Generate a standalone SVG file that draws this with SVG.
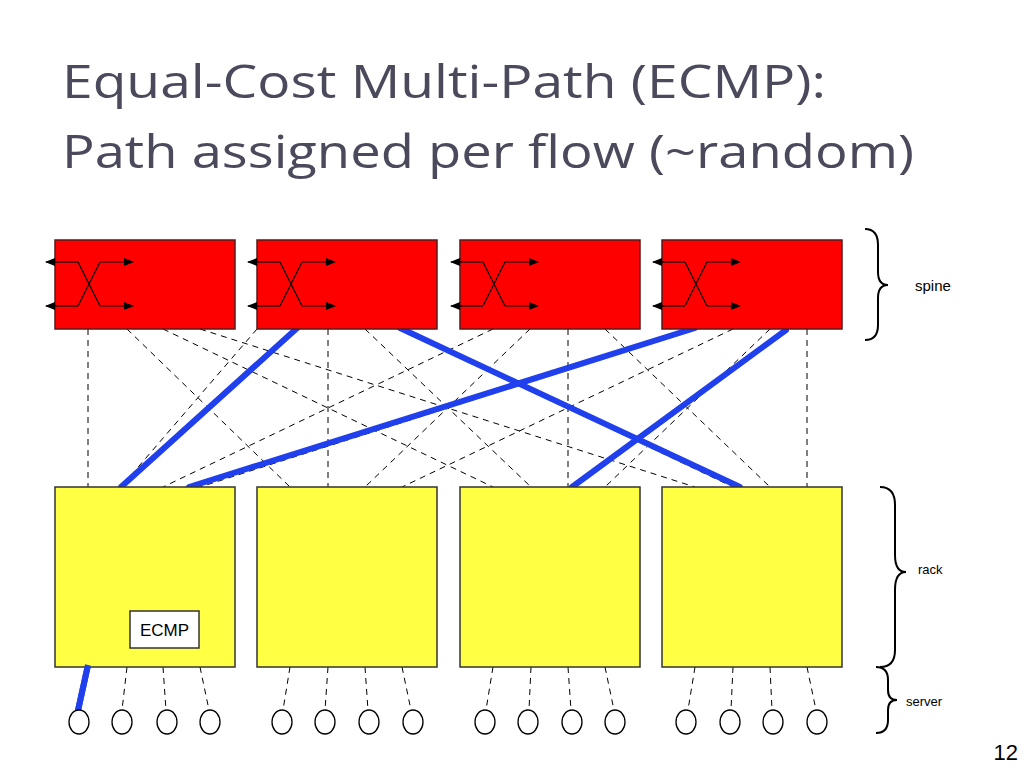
<svg xmlns="http://www.w3.org/2000/svg" width="1024" height="768" viewBox="0 0 1024 768">
<style>
.sp{fill:#ff0000;stroke:#5a1a1a;stroke-width:1.5}
.rk{fill:#ffff44;stroke:#333;stroke-width:1.5}
.ic{fill:none;stroke:#000;stroke-width:1.2}
.d{stroke:#000;stroke-width:1;stroke-dasharray:6,5;fill:none}
.sv{fill:#fff;stroke:#000;stroke-width:1.3}
.bl{fill:none;stroke:#2040ee;stroke-width:6;stroke-linejoin:round}
.br{fill:none;stroke:#000;stroke-width:2}
.t{font-family:'Liberation Sans',Arial,sans-serif;fill:#000}
</style>
<defs>
<marker id="ah" viewBox="0 0 10 10" refX="9" refY="5" markerWidth="10" markerHeight="10" markerUnits="userSpaceOnUse" orient="auto"><path d="M0,1 L10,5 L0,9 Z" fill="#000"/></marker>
<marker id="bh" viewBox="0 0 10 10" refX="8" refY="5" markerWidth="5" markerHeight="4" orient="auto"><path d="M0,0 L10,5 L0,10 Z" fill="#2040ee"/></marker>
<g id="sw">
<path class="ic" d="M78,262 H46" marker-end="url(#ah)"/>
<path class="ic" d="M100,262 H133" marker-end="url(#ah)"/>
<path class="ic" d="M78,306 H46" marker-end="url(#ah)"/>
<path class="ic" d="M100,306 H133" marker-end="url(#ah)"/>
<path class="ic" d="M78,262 L100,306 M100,262 L78,306"/>
</g>
</defs>
<rect width="1024" height="768" fill="#fff"/>
<text x="62" y="98" font-family="'Open Sans','DejaVu Sans',sans-serif" font-size="46" fill="#4a4a5c" textLength="764" lengthAdjust="spacingAndGlyphs">Equal-Cost Multi-Path (ECMP):</text>
<text x="62" y="168" font-family="'Open Sans','DejaVu Sans',sans-serif" font-size="46" fill="#4a4a5c" textLength="852" lengthAdjust="spacingAndGlyphs">Path assigned per flow (~random)</text>
<g id="connectors">
<path class="d" d="M88,329 V487 M127,329 L290,487 M163,329 L493,487 M200,329 L695,487
M257,329 L121,487 M328,329 V487 M365,329 L531,487 M402,329 L733,487
M493,329 L163,487 M530,329 L365,487 M568,329 V487 M605,329 L770,487
M695,329 L200,487 M733,329 L402,487 M770,329 L605,487 M807,329 V487"/>
<path class="d" d="M127,667 L122,710 M163,667 L166,710 M200,667 L209,710
M290,667 L283,710 M328,667 L325,710 M365,667 L368,710 M402,667 L411,710
M493,667 L486,710 M531,667 L529,710 M568,667 L571,710 M605,667 L614,710
M695,667 L688,710 M733,667 L731,710 M770,667 L772,710 M807,667 L816,710"/>
<path class="bl" d="M77,715 L88,665 L121,487 L347,283 L400,328 L740,487 L767,660" marker-end="url(#bh)"/>
<path class="bl" d="M88,665 L189,487 L695,328 L753,283 L786,330 L572,487 L501,655" marker-end="url(#bh)"/>
</g>
<g id="spine1"><rect class="sp" x="55" y="240" width="180" height="89"/><use href="#sw"/></g>
<g id="spine2"><rect class="sp" x="257" y="240" width="180" height="89"/><use href="#sw" x="202"/></g>
<g id="spine3"><rect class="sp" x="460" y="240" width="180" height="89"/><use href="#sw" x="405"/></g>
<g id="spine4"><rect class="sp" x="662" y="240" width="180" height="89"/><use href="#sw" x="607"/></g>
<g id="rack1"><rect class="rk" x="55" y="487" width="180" height="180"/></g>
<g id="rack2"><rect class="rk" x="257" y="487" width="180" height="180"/></g>
<g id="rack3"><rect class="rk" x="460" y="487" width="180" height="180"/></g>
<g id="rack4"><rect class="rk" x="662" y="487" width="180" height="180"/></g>
<g id="ecmp"><rect x="130" y="611" width="69" height="37" fill="#fff" stroke="#333" stroke-width="1.5"/><text class="t" x="164.5" y="636" font-size="17" text-anchor="middle">ECMP</text></g>
<path class="bl" d="M88,665 L77,715" />
<g id="servers">
<ellipse class="sv" cx="79" cy="722" rx="10" ry="12"/><ellipse class="sv" cx="122" cy="722" rx="10" ry="12"/><ellipse class="sv" cx="167" cy="722" rx="10" ry="12"/><ellipse class="sv" cx="210" cy="722" rx="10" ry="12"/>
<ellipse class="sv" cx="282" cy="722" rx="10" ry="12"/><ellipse class="sv" cx="325" cy="722" rx="10" ry="12"/><ellipse class="sv" cx="369" cy="722" rx="10" ry="12"/><ellipse class="sv" cx="413" cy="722" rx="10" ry="12"/>
<ellipse class="sv" cx="485" cy="722" rx="10" ry="12"/><ellipse class="sv" cx="528" cy="722" rx="10" ry="12"/><ellipse class="sv" cx="572" cy="722" rx="10" ry="12"/><ellipse class="sv" cx="615" cy="722" rx="10" ry="12"/>
<ellipse class="sv" cx="686" cy="722" rx="10" ry="12"/><ellipse class="sv" cx="730" cy="722" rx="10" ry="12"/><ellipse class="sv" cx="773" cy="722" rx="10" ry="12"/><ellipse class="sv" cx="817" cy="722" rx="10" ry="12"/>
</g>
<path class="br" d="M865,229 Q878,229 878,245 V272 Q878,285 888,285 Q878,285 878,298 V325 Q878,340 865,340"/>
<path class="br" d="M880,487 Q895,487 895,505 V555 Q895,572 906,572 Q895,572 895,590 V650 Q895,667 880,667"/>
<path class="br" d="M876,667 Q888,667 888,680 V690 Q888,700 897,700 Q888,700 888,710 V720 Q888,733 876,733"/>
<text class="t" x="915" y="291" font-size="15">spine</text>
<text class="t" x="918" y="574" font-size="13">rack</text>
<text class="t" x="906" y="706" font-size="13">server</text>
<text class="t" x="1018" y="760" font-size="22" text-anchor="end">12</text>
</svg>
